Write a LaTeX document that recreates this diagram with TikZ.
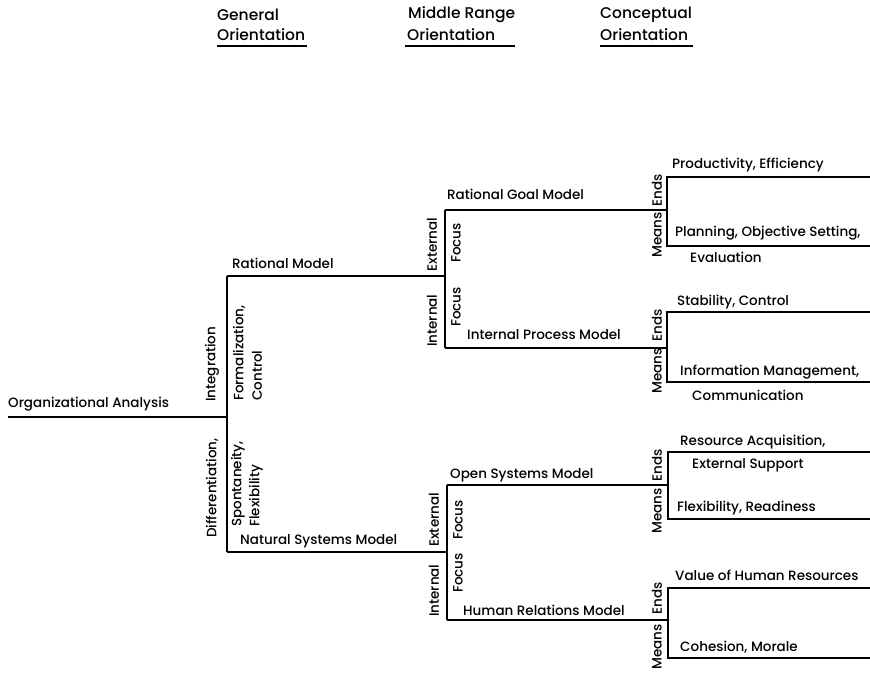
\documentclass[tikz,border=0pt]{standalone}
\usepackage{fontspec}
\setmainfont{Poppins Medium}
\begin{document}
\begin{tikzpicture}[x=1pt,y=-1pt,
  ln/.style={line width=1.5pt},
  lbl/.style={inner sep=0pt, font=\fontsize{13.5}{15}\selectfont, anchor=west},
  rl/.style={lbl, rotate=90},
  hd/.style={inner sep=0pt, font=\fontsize{15.5}{17}\selectfont, anchor=west}]
\useasboundingbox (0,0) rectangle (870,673);
% headers
\node[hd] (g1) at (217,15) {General};
\node[hd] (g2) at (217,35) {Orientation};
\node[hd] (m1) at (408,15) {Middle Range};
\node[hd] (m2) at (407,35) {Orientation};
\node[hd] (c1) at (600,15) {Conceptual};
\node[hd] (c2) at (600,35) {Orientation};
\coordinate (gu1) at (217,46); \coordinate (gu2) at (307,46);
\coordinate (mu1) at (405,46); \coordinate (mu2) at (515,46);
\coordinate (cu1) at (600,46); \coordinate (cu2) at (693,46);
\draw[ln] (gu1) -- (gu2);
\draw[ln] (mu1) -- (mu2);
\draw[ln] (cu1) -- (cu2);
% level 1
\coordinate (oa0) at (8,417);
\coordinate (oa1) at (227,417);
\coordinate (r0) at (227,276);
\coordinate (n0) at (227,552);
\coordinate (r1) at (445,276);
\coordinate (n1) at (446,552);
\draw[ln] (oa0) -- (oa1);
\draw[ln] (r0) -- (n0);
\draw[ln] (r0) -- (r1);
\draw[ln] (n0) -- (n1);
\node[lbl] (oa) at (8,404) {Organizational Analysis};
\node[lbl] (rm) at (232,263) {Rational Model};
\node[lbl] (nsm) at (240,541) {Natural Systems Model};
\node[rl] (int) at (212,402) {Integration};
\node[rl] (fo) at (239,401) {Formalization,};
\node[rl] (co) at (257,401) {Control};
\node[rl] (dif) at (212,538) {Differentiation,};
\node[rl] (sp) at (238,527) {Spontaneity,};
\node[rl] (fl) at (256,527) {Flexibility};
% level 2 upper
\coordinate (rg0) at (445,210);
\coordinate (ip0) at (445,348);
\coordinate (rg1) at (667,210);
\coordinate (ip1) at (667,348);
\draw[ln] (rg0) -- (ip0);
\draw[ln] (rg0) -- (rg1);
\draw[ln] (ip0) -- (ip1);
\node[lbl] (rgm) at (447,194) {Rational Goal Model};
\node[lbl] (ipm) at (467,335) {Internal Process Model};
\node[rl] (ex1) at (432,272) {External};
\node[rl] (fc1) at (456,263) {Focus};
\node[rl] (in1) at (432,347) {Internal};
\node[rl] (fc2) at (456,327) {Focus};
% level 2 lower
\coordinate (os0) at (447,485);
\coordinate (hr0) at (447,620);
\coordinate (os1) at (668,485);
\coordinate (hr1) at (668,620);
\draw[ln] (os0) -- (hr0);
\draw[ln] (os0) -- (os1);
\draw[ln] (hr0) -- (hr1);
\node[lbl] (osm) at (450,475) {Open Systems Model};
\node[lbl] (hrm) at (463,610) {Human Relations Model};
\node[rl] (ex2) at (434,547) {External};
\node[rl] (fc3) at (458,540) {Focus};
\node[rl] (in2) at (434,617) {Internal};
\node[rl] (fc4) at (458,593) {Focus};
% level 3
\coordinate (a0) at (667,177); \coordinate (a1) at (870,177);
\coordinate (b0) at (667,246); \coordinate (b1) at (870,246);
\coordinate (c0) at (667,312); \coordinate (c1) at (870,312);
\coordinate (d0) at (667,382); \coordinate (d1) at (870,382);
\coordinate (e0) at (668,452); \coordinate (e1) at (870,452);
\coordinate (f0) at (668,519); \coordinate (f1) at (870,519);
\coordinate (g0) at (668,588); \coordinate (g1) at (870,588);
\coordinate (h0) at (668,658); \coordinate (h1) at (870,658);
\draw[ln] (a1) -- (a0) -- (b0) -- (b1);
\draw[ln] (c1) -- (c0) -- (d0) -- (d1);
\draw[ln] (e1) -- (e0) -- (f0) -- (f1);
\draw[ln] (g1) -- (g0) -- (h0) -- (h1);
\node[rl] (en1) at (657,207) {Ends};
\node[rl] (me1) at (657,258) {Means};
\node[rl] (en2) at (657,342) {Ends};
\node[rl] (me2) at (657,394) {Means};
\node[rl] (en3) at (657,482) {Ends};
\node[rl] (me3) at (657,534) {Means};
\node[rl] (en4) at (657,615) {Ends};
\node[rl] (me4) at (657,670) {Means};
\node[lbl] (t1) at (672,165) {Productivity, Efficiency};
\node[lbl] (t2) at (675,233) {Planning, Objective Setting,};
\node[lbl] (t3) at (690,257) {Evaluation};
\node[lbl] (t4) at (677,302) {Stability, Control};
\node[lbl] (t5) at (680,372) {Information Management,};
\node[lbl] (t6) at (692,395) {Communication};
\node[lbl] (t7) at (680,442) {Resource Acquisition,};
\node[lbl] (t8) at (692,465) {External Support};
\node[lbl] (t9) at (677,508) {Flexibility, Readiness};
\node[lbl] (t10) at (675,575) {Value of Human Resources};
\node[lbl] (t11) at (680,647) {Cohesion, Morale};
\end{tikzpicture}
\end{document}
